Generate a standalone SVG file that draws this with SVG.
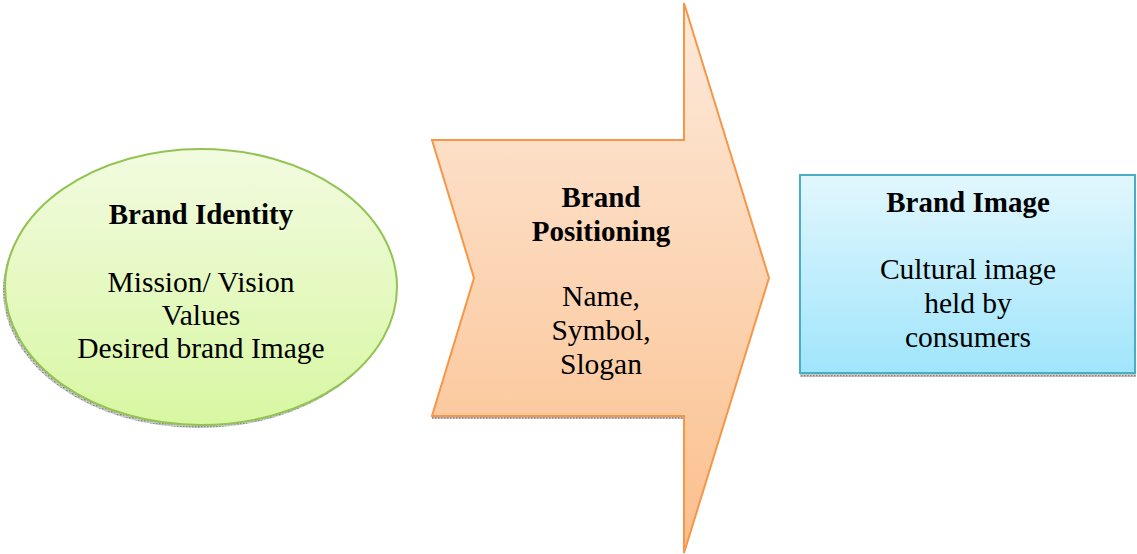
<svg xmlns="http://www.w3.org/2000/svg" width="1137" height="554" viewBox="0 0 1137 554">
<defs>
<linearGradient id="gGreen" x1="0" y1="0" x2="0" y2="1"><stop offset="0" stop-color="#f2fbe0"/><stop offset="1" stop-color="#d8f7a2"/></linearGradient>
<linearGradient id="gOrange" x1="0" y1="0" x2="0" y2="1"><stop offset="0" stop-color="#fdeadb"/><stop offset="1" stop-color="#fbbf8c"/></linearGradient>
<linearGradient id="gBlue" x1="0" y1="0" x2="0" y2="1"><stop offset="0" stop-color="#e2f7fe"/><stop offset="1" stop-color="#a0e5fb"/></linearGradient>
<pattern id="dots" width="3" height="3" patternUnits="userSpaceOnUse"><rect width="3" height="3" fill="#c8c8c8"/><rect width="1.5" height="1.5" fill="#888"/></pattern>
</defs>
<style>
text{font-family:"Liberation Serif","Times New Roman",serif;font-size:29.5px;fill:#000;text-anchor:middle}
.b{font-weight:bold;font-size:29px}
</style>
<g id="connectors"/>
<g id="brand-identity">
<ellipse cx="199" cy="290" rx="196" ry="138" fill="url(#dots)"/>
<ellipse cx="201" cy="287" rx="196" ry="138" fill="url(#gGreen)" stroke="#92c353" stroke-width="2"/>
<text class="b" x="201" y="224">Brand Identity</text>
<text x="201" y="292">Mission/ Vision</text>
<text x="201" y="325">Values</text>
<text x="201" y="358">Desired brand Image</text>
</g>
<g id="brand-positioning">
<rect x="432" y="416" width="252" height="3" fill="url(#dots)"/>
<path d="M432 140 L684 140 L684 3 L769 278 L684 553 L684 416 L432 416 L474 278 Z" fill="url(#gOrange)" stroke="#f79646" stroke-width="2" stroke-linejoin="miter"/>
<text class="b" x="601" y="207">Brand</text>
<text class="b" x="601" y="241">Positioning</text>
<text x="601" y="306">Name,</text>
<text x="601" y="340">Symbol,</text>
<text x="601" y="374">Slogan</text>
</g>
<g id="brand-image">
<rect x="800" y="374" width="336" height="3" fill="url(#dots)"/>
<rect x="800" y="175" width="335" height="198" fill="url(#gBlue)" stroke="#4bacc6" stroke-width="2"/>
<text class="b" x="968" y="212">Brand Image</text>
<text x="968" y="279">Cultural image</text>
<text x="968" y="313">held by</text>
<text x="968" y="347">consumers</text>
</g>
</svg>
